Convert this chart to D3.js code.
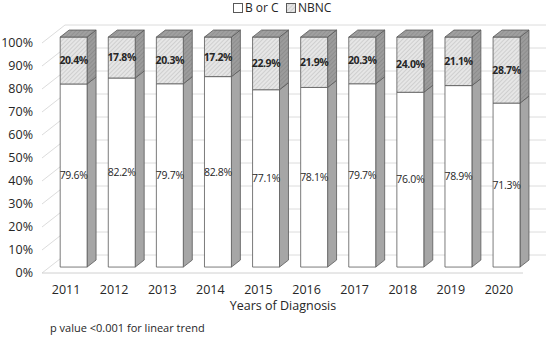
<!DOCTYPE html>
<html>
<head>
<meta charset="utf-8">
<script src="https://cdn.jsdelivr.net/npm/d3@7"></script>
<style>
  body { margin: 0; background: #fff; }
  text { font-family: 'Open Sans', sans-serif; fill: #262626; }
</style>
</head>
<body>
<script>
const years = ['2011', '2012', '2013', '2014', '2015', '2016', '2017', '2018', '2019', '2020']
const bOrC = [79.6, 82.2, 79.7, 82.8, 77.1, 78.1, 79.7, 76.0, 78.9, 71.3]
const nbnc = [20.4, 17.8, 20.3, 17.2, 22.9, 21.9, 20.3, 24.0, 21.1, 28.7]
const yTicks = [0, 10, 20, 30, 40, 50, 60, 70, 80, 90, 100]

const w = 550
const h = 337
// oblique depth offset of the back wall
const depthX = 23
const depthY = -18
const barD0 = 0.33
const barD1 = 0.72

const svg = d3.select('body').append('svg')
  .attr('width', w)
  .attr('height', h)

const defs = svg.append('defs')
function hatch (id, bg, line) {
  const p = defs.append('pattern')
    .attr('id', id)
    .attr('patternUnits', 'userSpaceOnUse')
    .attr('width', 3)
    .attr('height', 3)
    .attr('patternTransform', 'rotate(45)')
  p.append('rect').attr('width', 3).attr('height', 3).attr('fill', bg)
  p.append('line').attr('x1', 0).attr('y1', 0).attr('x2', 0).attr('y2', 3)
    .attr('stroke', line).attr('stroke-width', 1)
}
hatch('hatchFront', '#e6e6e6', '#b8b8b8')
hatch('hatchSide', '#9c9c9c', '#7f7f7f')
hatch('hatchTop', '#a0a0a0', '#858585')

const xScale = d3.scaleBand()
  .domain(years)
  .range([42, 523])
  .paddingInner(0)

const yScale = d3.scaleLinear()
  .domain([0, 100])
  .range([273, 43])

// point on a depth plane (0 = front, 1 = back wall)
function pt (x, v, d) {
  return [x + d * depthX, yScale(v) + d * depthY]
}
function poly (pts) {
  return 'M' + pts.map(p => p.join(',')).join('L') + 'Z'
}

const x0 = xScale.range()[0]
const x1 = xScale.range()[1]

// gridlines: side wall diagonal + back wall horizontal
const grid = svg.append('g')
yTicks.forEach(t => {
  const a = pt(x0, t, 0)
  const b = pt(x0, t, 1)
  const c = pt(x1, t, 1)
  grid.append('path')
    .attr('d', 'M' + a.join(',') + 'L' + b.join(',') + 'L' + c.join(','))
    .attr('fill', 'none')
    .attr('stroke', '#dcdcdc')
    .attr('stroke-width', 1)
})
// floor front edge
grid.append('line')
  .attr('x1', x0).attr('y1', yScale(0))
  .attr('x2', x1).attr('y2', yScale(0))
  .attr('stroke', '#d0d0d0')

// y axis labels
svg.append('g').selectAll('text')
  .data(yTicks)
  .join('text')
  .attr('x', 33)
  .attr('y', d => yScale(d))
  .attr('dy', '0.35em')
  .attr('text-anchor', 'end')
  .attr('font-size', 12.5)
  .text(d => d + '%')

// bars
const barW = xScale.bandwidth() * 0.56
const barOff = (xScale.bandwidth() - barW) / 2

function drawBox (g, xl, v0, v1, front, side, top) {
  const xr = xl + barW
  // right side face
  g.append('path')
    .attr('d', poly([pt(xr, v0, barD0), pt(xr, v0, barD1), pt(xr, v1, barD1), pt(xr, v1, barD0)]))
    .attr('fill', side).attr('stroke', '#595959').attr('stroke-width', 0.8)
  // front face
  g.append('path')
    .attr('d', poly([pt(xl, v0, barD0), pt(xr, v0, barD0), pt(xr, v1, barD0), pt(xl, v1, barD0)]))
    .attr('fill', front).attr('stroke', '#595959').attr('stroke-width', 0.8)
  if (top) {
    g.append('path')
      .attr('d', poly([pt(xl, v1, barD0), pt(xr, v1, barD0), pt(xr, v1, barD1), pt(xl, v1, barD1)]))
      .attr('fill', top).attr('stroke', '#595959').attr('stroke-width', 0.8)
  }
}

years.forEach((yr, i) => {
  const g = svg.append('g')
  const xl = xScale(yr) + barOff
  const b = bOrC[i]
  const n = nbnc[i]
  drawBox(g, xl, 0, b, '#ffffff', '#a6a6a6', null)
  drawBox(g, xl, b, b + n, 'url(#hatchFront)', 'url(#hatchSide)', 'url(#hatchTop)')

  const cx = pt(xl + barW / 2, 0, barD0)[0]
  g.append('text')
    .attr('x', cx)
    .attr('y', (pt(0, 0, barD0)[1] + pt(0, b, barD0)[1]) / 2)
    .attr('dy', '0.35em')
    .attr('text-anchor', 'middle')
    .attr('font-size', 10.5)
    .attr('letter-spacing', -0.3)
    .text(b.toFixed(1) + '%')
  g.append('text')
    .attr('x', cx)
    .attr('y', (pt(0, b, barD0)[1] + pt(0, b + n, barD0)[1]) / 2)
    .attr('dy', '0.35em')
    .attr('text-anchor', 'middle')
    .attr('font-size', 10.5)
    .attr('font-weight', 'bold')
    .attr('letter-spacing', -0.4)
    .text(n.toFixed(1) + '%')
})

// x axis labels
svg.append('g').selectAll('text')
  .data(years)
  .join('text')
  .attr('x', d => xScale(d) + xScale.bandwidth() / 2)
  .attr('y', 290)
  .attr('dy', '0.35em')
  .attr('text-anchor', 'middle')
  .attr('font-size', 12.5)
  .text(d => d)

svg.append('text')
  .attr('x', 283)
  .attr('y', 306)
  .attr('dy', '0.35em')
  .attr('text-anchor', 'middle')
  .attr('font-size', 12.5)
  .text('Years of Diagnosis')

svg.append('text')
  .attr('x', 50)
  .attr('y', 328)
  .attr('dy', '0.35em')
  .attr('font-size', 11)
  .text('p value <0.001 for linear trend')

// legend
const legend = svg.append('g')
legend.append('rect')
  .attr('x', 233.5).attr('y', 3.5).attr('width', 9).attr('height', 9)
  .attr('fill', '#fff').attr('stroke', '#595959')
legend.append('text')
  .attr('x', 245).attr('y', 8).attr('dy', '0.35em')
  .attr('font-size', 12).text('B or C')
legend.append('rect')
  .attr('x', 286.5).attr('y', 3.5).attr('width', 9).attr('height', 9)
  .attr('fill', 'url(#hatchFront)').attr('stroke', '#595959')
legend.append('text')
  .attr('x', 298).attr('y', 8).attr('dy', '0.35em')
  .attr('font-size', 12).text('NBNC')
</script>
</body>
</html>
